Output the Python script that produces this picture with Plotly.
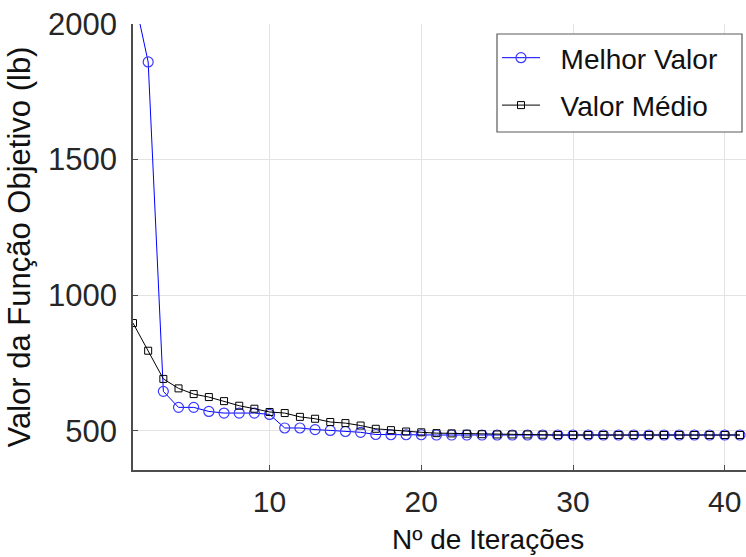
import plotly.graph_objects as go

iteracoes = list(range(1, 42))
melhor_valor = [2120, 1860, 645, 586, 586, 571, 565, 565, 565, 560,
                510, 510, 504, 501, 497, 494, 486, 485, 485, 485,
                484, 484, 484, 484, 484, 484, 484, 484, 484, 484,
                484, 484, 484, 484, 484, 484, 484, 484, 484, 484, 484]
valor_medio = [897, 795, 691, 656, 635, 624, 609, 592, 581, 569,
               565, 551, 544, 532, 528, 519, 507, 502, 497, 494,
               491, 490, 489, 487, 486, 486, 486, 485, 484, 484,
               484, 484, 484, 484, 484, 484, 484, 484, 484, 484, 484]
y_ticks = [500, 1000, 1500, 2000]
x_ticks = [10, 20, 30, 40]
nomes = ["Melhor Valor", "Valor Médio"]
titulo_x = "Nº de Iterações"
titulo_y = "Valor da Função Objetivo (lb)"

FONT = "Liberation Sans, Arial, sans-serif"
NB = "\u00a0"

# plot-area pixel geometry (used only to convert pixel layout positions to paper coords)
L, R, T, B = 133, 746, 24, 470
PW, PH = R - L, B - T

fig = go.Figure()
fig.add_trace(go.Scatter(
    x=iteracoes, y=melhor_valor, mode="lines+markers",
    name=NB * 2 + nomes[0],
    legendgroup="a",
    line=dict(color="#0000ff", width=1),
    marker=dict(symbol="circle-open", size=10, color="#3a3aff", line=dict(width=1.2)),
))
fig.add_trace(go.Scatter(
    x=iteracoes, y=valor_medio, mode="lines+markers",
    name=NB * 2 + nomes[1],
    legendgroup="b",
    line=dict(color="#000000", width=1),
    marker=dict(symbol="square-open", size=7, color="#000000", line=dict(width=1)),
))

# legend frame
fig.add_shape(
    type="rect", xref="paper", yref="paper",
    x0=(497 - L) / PW, x1=(742 - L) / PW, y0=(B - 132) / PH, y1=(B - 34) / PH,
    fillcolor="white", line=dict(color="#5a5a5a", width=1.2), layer="above",
)

fig.add_annotation(
    text=titulo_x, xref="paper", yref="paper",
    x=(488 - L) / PW, y=(B - 522) / PH, xanchor="center", yanchor="top",
    showarrow=False, font=dict(size=28, color="#111111", family=FONT),
)

fig.update_layout(
    width=746, height=557,
    margin=dict(l=L, r=0, t=T, b=557 - B, autoexpand=False),
    paper_bgcolor="white", plot_bgcolor="white",
    font=dict(family=FONT, color="#262626"),
    showlegend=True,
    legend=dict(
        x=(497 - L) / PW, y=(B - 33) / PH, xanchor="left", yanchor="top",
        bgcolor="rgba(0,0,0,0)", borderwidth=0,
        font=dict(size=28, color="#111111", family=FONT),
        itemwidth=38, tracegroupgap=8, traceorder="grouped",
    ),
    xaxis=dict(
        range=[1, 41.4], tickvals=x_ticks, ticktext=[str(v) for v in x_ticks],
        showgrid=True, gridcolor="#e3e3e3", gridwidth=1,
        showline=True, linecolor="#4d4d4d", linewidth=1.5,
        ticks="inside", ticklen=5, tickcolor="#4d4d4d",
        tickfont=dict(size=30, color="#262626"), ticklabelstandoff=4,
        zeroline=False,
    ),
    yaxis=dict(
        range=[355, 2000], tickvals=y_ticks, ticktext=[str(v) for v in y_ticks],
        showgrid=True, gridcolor="#e3e3e3", gridwidth=1,
        showline=True, linecolor="#4d4d4d", linewidth=1.5,
        ticks="inside", ticklen=5, tickcolor="#4d4d4d",
        tickfont=dict(size=31, color="#262626"), ticklabelstandoff=8,
        zeroline=False,
        title=dict(text=titulo_y, font=dict(size=31, color="#111111"), standoff=8),
    ),
)

fig.write_html("out.html")
